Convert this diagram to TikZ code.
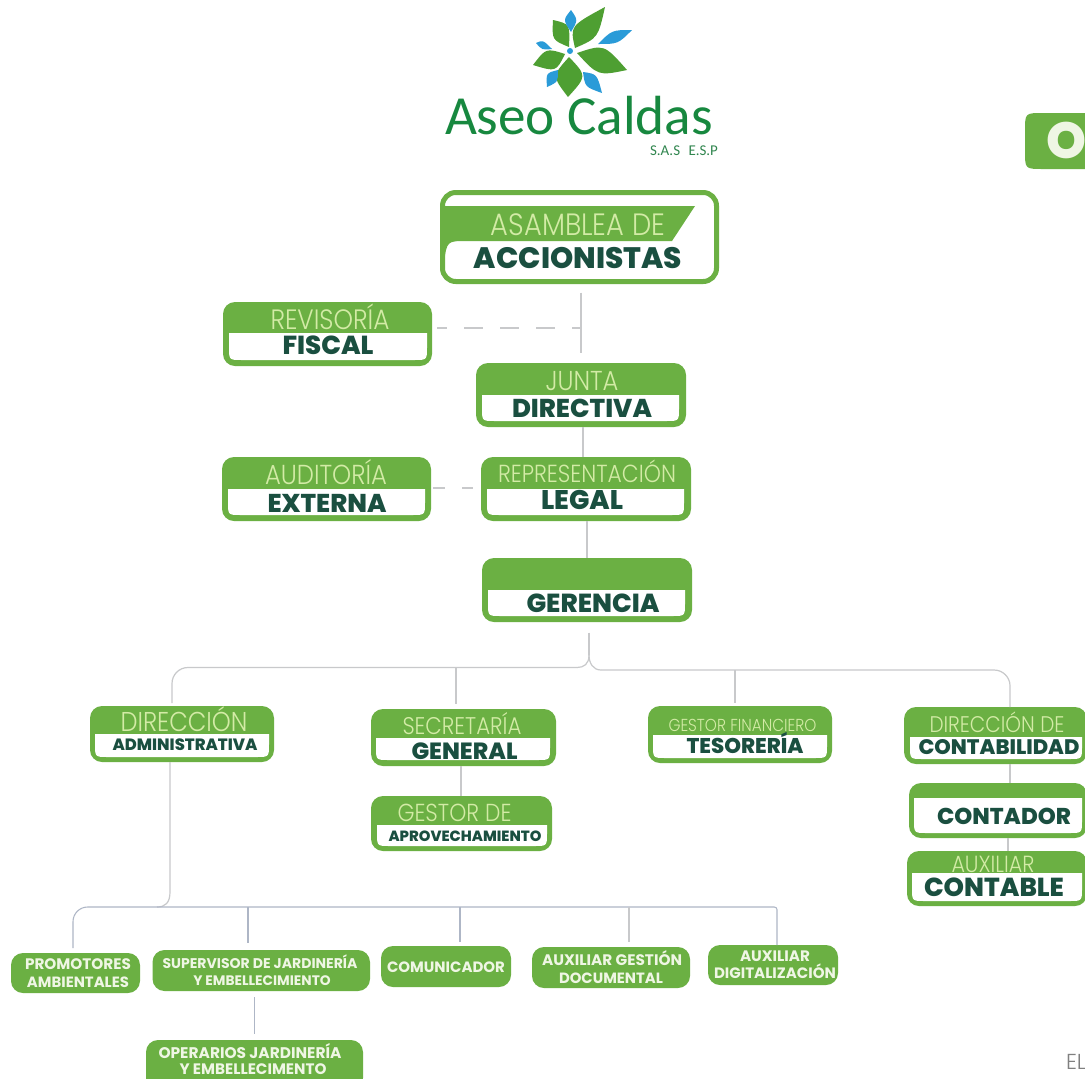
\documentclass[tikz,border=0pt]{standalone}
\usepackage{fontspec}
\usepackage{graphicx}
\setmainfont{Poppins}
\newfontfamily\heavyf{Poppins ExtraBold}
\newfontfamily\thinf{Poppins Light}
\newfontfamily\boldf{Poppins Bold}
\newfontfamily\logof{Carlito}
\definecolor{gr}{HTML}{6BB043}
\definecolor{dk}{HTML}{1A4F40}
\definecolor{lt}{HTML}{D3EBA6}
\definecolor{wt}{HTML}{EFF6E4}
\definecolor{lineg}{HTML}{C8C9CB}
\definecolor{lineb}{HTML}{AEB6C6}
\definecolor{leafg}{HTML}{4E9F32}
\definecolor{leafb}{HTML}{2A9BD8}
\definecolor{logog}{HTML}{17883F}
\tikzset{
 gbox/.style={fill=gr,rounded corners=9pt,inner sep=0pt,outer sep=0pt},
 conn/.style={draw=lineg,line width=0.9pt},
 connb/.style={draw=lineb,line width=0.8pt},
 txt/.style={anchor=base,inner sep=0pt,outer sep=0pt},
}
\newcounter{lblc}
\newlength\wlen
% name x0 y0 x1 y1
\newcommand\gbx[5]{%
 \pgfmathsetmacro\cxx{(#2+#4)/2}\pgfmathsetmacro\cyy{(#3+#5)/2}%
 \pgfmathsetmacro\ww{(#4-#2)*0.75}\pgfmathsetmacro\hh{(#5-#3)*0.75}%
 \node[gbox,minimum width=\ww pt,minimum height=\hh pt] (#1) at (\cxx,\cyy) {};}
% x0 ytop x1 ybot (white panel)
\newcommand\wpanel[4]{\fill[white] (#1,#2) -- (#3,#2) -- (#3,#4-13) .. controls (#3,#4) .. (#3-13,#4) -- (#1+13,#4) .. controls (#1,#4) .. (#1,#4-13) -- cycle;}
% cx base width fontcmd colour text
\newcommand\tlb[6]{\stepcounter{lblc}\wlen=#3pt \wlen=0.75\wlen
 \node[txt,text=#5] (lbl\arabic{lblc}) at (#1,#2) {\resizebox{\wlen}{!}{\fontsize{20}{20}#4\selectfont #6}};}
\newcommand\tlv[6]{\stepcounter{lblc}\wlen=#3pt \wlen=0.75\wlen
 \node[txt,text=#5] (lbl\arabic{lblc}) at (#1,#2) {\scalebox{1}[1.13]{\resizebox{\wlen}{!}{\fontsize{20}{20}#4\selectfont #6}}};}
\newcommand\thn[4]{\tlv{#1}{#2}{#3}{\thinf}{lt}{#4}}
\newcommand\hvy[4]{\tlb{#1}{#2}{#3}{\heavyf}{dk}{#4}}
\newcommand\bwh[4]{\tlb{#1}{#2}{#3}{\boldf}{wt}{#4}}
\newcommand\leaf[5]{\fill[#1] (#2) .. controls (#4) .. (#3) .. controls (#5) .. cycle;}
\begin{document}
\begin{tikzpicture}[x=0.75pt,y=-0.75pt]
\path[use as bounding box,clip] (0,0) rectangle (1085,1078);
\fill[white] (0,0) rectangle (1085,1078);
% logo flower
\leaf{leafg}{605,7}{575,48}{570,26}{598,38}
\leaf{leafg}{553,20}{569,47}{570,24}{552,40}
\leaf{leafg}{533,65}{565,54}{546,48}{556,72}
\leaf{leafg}{568,97}{569,57}{552,76}{587,76}
\leaf{leafg}{627,70}{577,53}{604,44}{598,76}
\leaf{leafb}{571,32}{571,10}{563,20}{578,20}
\leaf{leafb}{598,44}{632,30}{612,30}{618,44}
\leaf{leafb}{536,43}{552,49}{543,40}{542,50}
\leaf{leafb}{558,70}{547,87}{546,73}{558,82}
\leaf{leafb}{583,72}{602,93}{597,74}{585,87}
\fill[leafb] (570,51) circle (3);
\tlb{579}{134}{268}{\logof}{logog}{Aseo Caldas}
\tlb{684}{155}{68}{\logof}{logog!75!gray}{S.A.S\,\, E.S.P}
% O tab
\fill[gr] (1085,113) -- (1043,113) .. controls (1025,113) .. (1025,131) -- (1025,151) .. controls (1025,169) .. (1043,169) -- (1085,169) -- cycle;
\tlb{1066}{158}{40}{\heavyf}{wt}{O}
\tlb{1076}{1069}{20}{\thinf}{gray}{EL}
% Asamblea
\node[draw=gr,line width=3.75pt,fill=white,rounded corners=10pt,inner sep=0pt,minimum width=205.5pt,minimum height=66.75pt] (asam) at (579.5,237) {};
\fill[gr] (444,206) -- (695,206) -- (672,241) -- (467,241) .. controls (447,241) .. (444,262) -- cycle;
\thn{578}{235}{174}{ASAMBLEA DE}
\hvy{578}{268}{208}{ACCIONISTAS}
% Boxes
\gbx{rev}{223}{302}{432}{366}\wpanel{229}{333}{427}{360}
\thn{330}{329}{119}{REVISORÍA}\hvy{328}{354}{91}{FISCAL}
\gbx{junta}{476}{363}{686}{427}\wpanel{482}{395}{679}{421}
\thn{582}{390}{73}{JUNTA}\hvy{582}{417}{140}{DIRECTIVA}
\gbx{aud}{222}{457}{431}{521}\wpanel{228}{489}{425}{515}
\thn{326}{484}{122}{AUDITORÍA}\hvy{327}{512}{119}{EXTERNA}
\gbx{repr}{481}{457}{691}{521}\wpanel{487}{489}{684}{515}
\thn{587}{482}{178}{REPRESENTACIÓN}\hvy{582}{509}{82}{LEGAL}
\gbx{ger}{482}{558}{692}{622}\wpanel{488}{590}{685}{616}
\hvy{593}{612}{133}{GERENCIA}
\gbx{dira}{90}{706}{274}{762}\wpanel{95}{734}{269}{757}
\thn{184}{731}{127}{DIRECCIÓN}\hvy{185}{750}{145}{ADMINISTRATIVA}
\gbx{sec}{371}{709}{556}{766}\wpanel{376}{738}{550}{760}
\thn{462}{734}{119}{SECRETARÍA}\hvy{464.5}{759}{106}{GENERAL}
\gbx{gest}{371}{796}{552}{851}\wpanel{377}{825}{547}{846}
\thn{454.5}{821}{114}{GESTOR DE}\hvy{465}{841}{153}{APROVECHAMIENTO}
\gbx{tes}{648}{706}{832}{763}\wpanel{653}{735}{827}{758}
\thn{742.5}{731}{148}{GESTOR FINANCIERO}\hvy{745}{753}{117}{TESORERÍA}
\gbx{cont}{904}{707}{1087}{764}\wpanel{910}{737}{1082}{759}
\thn{997}{732}{135}{DIRECCIÓN DE}\hvy{999}{754}{161}{CONTABILIDAD}
\gbx{ctd}{909}{783}{1087}{838}\wpanel{914}{798}{1082}{833}
\hvy{1004}{824}{134}{CONTADOR}
\gbx{aux}{907}{851}{1087}{906}\wpanel{912}{873}{1082}{901}
\thn{993}{872}{83}{AUXILIAR}\hvy{994}{896}{140}{CONTABLE}
% bottom row
\gbx{prom}{11}{953}{140}{993}
\bwh{78}{969}{106}{PROMOTORES}\bwh{78}{987}{102}{AMBIENTALES}
\gbx{sup}{152.5}{950}{370}{991}
\bwh{260}{968}{195}{SUPERVISOR DE JARDINERÍA}\bwh{262}{985}{137.5}{Y EMBELLECIMIENTO}
\gbx{com}{381}{946}{511}{987}
\bwh{446}{972}{118}{COMUNICADOR}
\gbx{agd}{532}{947}{690}{988}
\bwh{612}{965}{140}{AUXILIAR GESTIÓN}\bwh{611}{983}{104}{DOCUMENTAL}
\gbx{adg}{708}{945}{838}{985}
\bwh{775}{961}{70}{AUXILIAR}\bwh{775}{978}{122}{DIGITALIZACIÓN}
\gbx{oper}{146}{1040}{363}{1090}
\bwh{250}{1058}{183}{OPERARIOS JARDINERÍA}\bwh{253}{1074}{147}{Y EMBELLECIMENTO}
% connectors upper
\coordinate (dashj) at (581,328);
\draw[conn,shorten <=6.5pt,shorten >=7.5pt] (asam.south -| junta.north) -- (junta.north);
\draw[conn,dash pattern=on 14.25pt off 12.75pt,dash phase=6.75pt] ([xshift=3.75pt]rev.east |- dashj) -- (dashj);
\draw[conn] ([xshift=1.5pt]junta.south) -- ([xshift=1.5pt]junta.south |- repr.north);
\draw[conn,dash pattern=on 9pt off 12.75pt,shorten <=1.5pt,shorten >=6pt] (aud.east |- 0,488) -- (repr.west |- 0,488);
\draw[conn] ([xshift=0.75pt]repr.south) -- ([xshift=0.75pt]repr.south |- ger.north);
% upper tree
\coordinate (fork) at (589,655);
\draw[conn,shorten <=8pt] ([xshift=1.5pt]ger.south) -- (fork);
\draw[conn,rounded corners=12pt,shorten <=2.25pt] ([xshift=-7.5pt]dira.north) |- (577,667.5);
\draw[conn] (577,667.5) .. controls (584,667.5) and (589,664) .. (fork);
\draw[conn] (fork) .. controls (589,663) and (593,670) .. (601,670);
\draw[conn,rounded corners=12pt] (601,670) -| ([xshift=10.9pt]cont.north);
\draw[conn,shorten >=4pt] (456,667.5) -- (sec.north -| 456,0);
\draw[conn,shorten >=2.25pt] (735,670) -- (tes.north -| 735,0);
% others
\draw[conn] ([xshift=-1.9pt]sec.south) -- ([xshift=-1.9pt]sec.south |- gest.north);
\draw[conn] ([xshift=10.9pt]cont.south) -- ([xshift=10.9pt]cont.south |- ctd.north);
\draw[conn] ([xshift=7.5pt]ctd.south) -- ([xshift=7.5pt]ctd.south |- aux.north);
% lower tree
\coordinate (trunk) at (157,907);
\draw[conn] ([xshift=-9pt]dira.south) -- (170,892) .. controls (170,903) and (165,907) .. (trunk);
\draw[connb,rounded corners=11pt,shorten <=3.75pt] (prom.north -| 73,0) |- (trunk);
\draw[connb,rounded corners=2pt] (trunk) -| (adg.north -| 777,0);
\draw[connb,shorten >=5.25pt] (248,907) -- (sup.north -| 248,0);
\draw[connb,shorten >=3pt] (460,907) -- (com.north -| 460,0);
\draw[conn,shorten >=3.75pt] (629,907) -- (agd.north -| 629,0);
\draw[connb,shorten <=4.5pt,shorten >=4.5pt] (sup.south -| 254.6,0) -- (oper.north -| 254.6,0);
\end{tikzpicture}
\end{document}
